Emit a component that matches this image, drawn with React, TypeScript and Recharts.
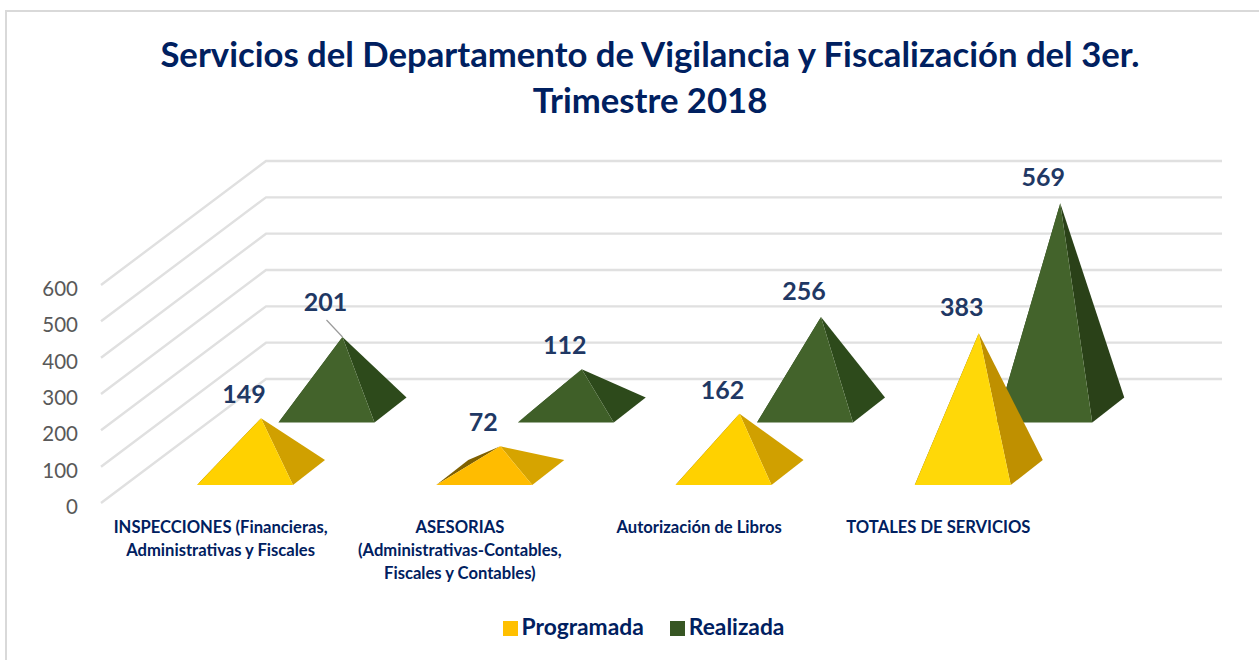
import React from 'react';
import { BarChart, Bar, XAxis, YAxis, CartesianGrid, Legend, LabelList } from 'recharts';

const categories = [
  'INSPECCIONES (Financieras,|Administrativas y Fiscales',
  'ASESORIAS|(Administrativas-Contables,|Fiscales y Contables)',
  'Autorización de Libros',
  'TOTALES DE SERVICIOS',
];
const programada = [149, 72, 162, 383];
const realizada = [201, 112, 256, 569];
const yTicks = [0, 100, 200, 300, 400, 500, 600];

const data = categories.map((name, i) => ({ name, Programada: programada[i], Realizada: realizada[i] }));

// face colours change a bit per pyramid, the lighting depends on the slope
const yellowFront = ['#FFD100', '#FFBC00', '#FFD100', '#FFD808'];
const yellowSide = ['#D0A000', '#D6A400', '#D0A000', '#BF9000'];
const greenFront = ['#43632B', '#3F5F28', '#43632B', '#43632B'];
const greenSide = ['#2D4A1B', '#2D4A1B', '#2D4A1B', '#2A4118'];

const NAVY = '#002060';
const LABEL = '#1F3864';
const FONT = 'Lato, sans-serif';

// floor and back wall depth of the fake 3D box
const WALL_DX = 165;
const WALL_DY = -124;
const WALL_RIGHT = 1222;
const BAR_W = 96;

const wallLine = (props: any) => {
  const { x1, y1, key } = props;
  const bx = x1 + WALL_DX;
  const by = y1 + WALL_DY;
  return (
    <polyline
      key={key}
      points={`${x1},${y1} ${bx},${by} ${WALL_RIGHT},${by}`}
      fill="none"
      stroke="#E0E0E0"
      strokeWidth={2.4}
    />
  );
};

function pyramid(dx: number, dy: number, front: string[], side: string[], back: string) {
  return (props: any) => {
    const { x, y, width, height, index } = props;
    const left = x + dx;
    const right = left + width;
    const base = y + height + dy;
    const cx = left + width / 3 + 32;
    const cy = base - 12.5;
    const top = cy - height;
    return (
      <g>
        <polygon points={`${left},${base} ${left + 32},${base - 25} ${cx},${top}`} fill={back} />
        <polygon points={`${right},${base} ${right + 32},${base - 25} ${cx},${top}`} fill={side[index]} />
        <polygon points={`${left},${base} ${right},${base} ${cx},${top}`} fill={front[index]} />
      </g>
    );
  };
}

function valueLabel(dx: number, dy: number, leader?: number) {
  return (props: any) => {
    const { x, y, height, width, value, index } = props;
    const base = y + height + dy;
    const cx = x + dx + width / 3 + 32;
    const top = base - 12.5 - height;
    // the tall ones sit a little higher over the apex, 201 is pulled away with a leader
    const gap = leader === index ? 36 : height > 60 && value > 200 ? 27 : 25;
    return (
      <g>
        {leader === index && (
          <line x1={cx - 16} y1={top - 17} x2={cx} y2={top} stroke="#9A9A9A" strokeWidth={1.2} />
        )}
        <text
          x={cx - 17}
          y={top - gap}
          textAnchor="middle"
          dominantBaseline="central"
          fontFamily={FONT}
          fontWeight={700}
          fontSize={25}
          fill={LABEL}
        >
          {value}
        </text>
      </g>
    );
  };
}

const CategoryTick = (props: any) => {
  const { x, y, payload } = props;
  const lines = String(payload.value).split('|');
  return (
    <text x={x} y={y} textAnchor="middle" fontFamily={FONT} fontWeight={700} fontSize={16.6} fill={NAVY}>
      {lines.map((l, i) => (
        <tspan key={i} x={x} y={y + 22 + i * 23}>
          {l}
        </tspan>
      ))}
    </text>
  );
};

const ValueTick = (props: any) => {
  const { x, y, payload } = props;
  return (
    <text x={x} y={y + 3} textAnchor="end" dominantBaseline="central" fontFamily={FONT} fontSize={20.5} fill="#595959">
      {payload.value}
    </text>
  );
};

export default function App() {
  return (
    <div style={{ position: 'absolute', left: 0, top: 0, width: 1259, height: 660, background: '#fff', overflow: 'hidden' }}>
      <div style={{ position: 'absolute', left: 5, top: 10, width: 1400, height: 800, borderLeft: '2px solid #D9D9D9', borderTop: '2px solid #D9D9D9' }} />
      <div
        style={{
          position: 'absolute',
          left: 50,
          width: 1200,
          top: 31,
          textAlign: 'center',
          fontFamily: FONT,
          fontWeight: 700,
          fontSize: 34.7,
          lineHeight: '46px',
          color: NAVY,
        }}
      >
        Servicios del Departamento de Vigilancia y Fiscalización del 3er.
        <br />
        Trimestre 2018
      </div>
      <div style={{ position: 'absolute', left: 0, top: 0 }}>
        <BarChart
          width={1259}
          height={660}
          data={data}
          margin={{ top: 285, right: 201, left: 41, bottom: 18 }}
          barSize={BAR_W}
          barGap={-BAR_W}
        >
          <CartesianGrid vertical={false} horizontal={wallLine} />
          <XAxis dataKey="name" height={109} interval={0} axisLine={false} tickLine={false} tick={CategoryTick} />
          <YAxis
            width={60}
            domain={[0, 600]}
            ticks={yTicks}
            axisLine={false}
            tickLine={false}
            tickSize={0}
            tickMargin={23}
            tick={ValueTick}
          />
          <Legend
            verticalAlign="bottom"
            height={30}
            iconType="square"
            iconSize={15}
            wrapperStyle={{ left: 140, bottom: 21 }}
            formatter={(value: string) => (
              <span
                style={{
                  position: 'relative',
                  top: 3,
                  fontFamily: FONT,
                  fontWeight: 700,
                  fontSize: 22.8,
                  color: NAVY,
                  paddingRight: value === 'Programada' ? 16 : 0,
                }}
              >
                {value}
              </span>
            )}
          />
          <Bar
            dataKey="Realizada"
            fill="#375623"
            isAnimationActive={false}
            shape={pyramid(105.5, -80.5, greenFront, greenSide, '#2A4118')}
          >
            <LabelList dataKey="Realizada" content={valueLabel(105.5, -80.5, 0)} />
          </Bar>
          <Bar
            dataKey="Programada"
            fill="#FFC000"
            isAnimationActive={false}
            shape={pyramid(24, -18, yellowFront, yellowSide, '#7F6000')}
          >
            <LabelList dataKey="Programada" content={valueLabel(24, -18)} />
          </Bar>
        </BarChart>
      </div>
    </div>
  );
}
